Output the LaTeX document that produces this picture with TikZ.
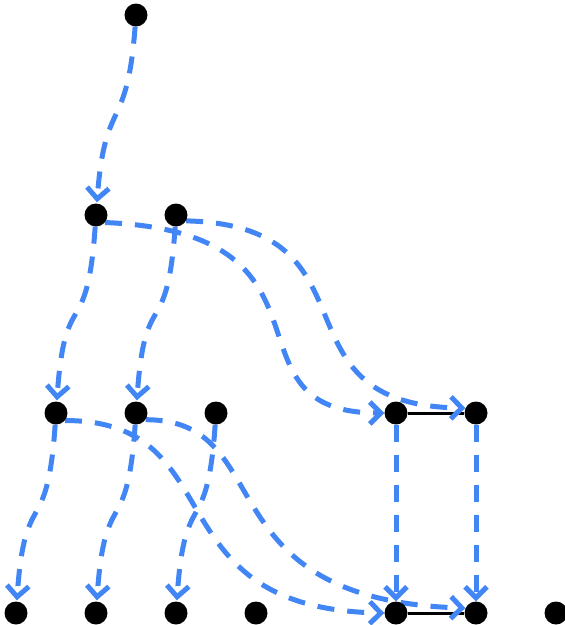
\documentclass[tikz,border=0pt]{standalone}
\usepackage{tikz}
\usetikzlibrary{arrows.meta,backgrounds}
\definecolor{flowblue}{HTML}{4285F4}

\begin{document}
\begin{tikzpicture}[
  x=1pt, y=-1pt,
  dot/.style={circle, fill=black, inner sep=0pt, minimum size=23pt},
  link/.style={line width=3pt, black},
  flow/.style={
    draw=flowblue,
    line width=5pt,
    dash pattern=on 17pt off 13pt,
    -{Straight Barb[length=11pt, width=22pt]}
  },
  sdrop/.style={flow, shorten >=1pt}
]
\useasboundingbox (0,0) rectangle (565,625);

% rows of points
\node[dot] (top) at (136,15) {};
\node[dot] (m1) at (96,215) {};
\node[dot] (m2) at (176,215) {};
\node[dot] (p1) at (56,413) {};
\node[dot] (p2) at (136,413) {};
\node[dot] (p3) at (216,413) {};
\node[dot] (p4) at (396,413) {};
\node[dot] (p5) at (476,413) {};
\node[dot] (q1) at (16,613) {};
\node[dot] (q2) at (96,613) {};
\node[dot] (q3) at (176,613) {};
\node[dot] (q4) at (256,613) {};
\node[dot] (q5) at (396,613) {};
\node[dot] (q6) at (476,613) {};
\node[dot] (q7) at (556,613) {};

\begin{pgfonlayer}{background}
\draw[link] (p4) -- (p5);
\draw[link] (q5) -- (q6);

% straight down, with a kink
\draw[sdrop] (top) .. controls +(-9,120) and +(9,-120) .. (m1);
\draw[sdrop] (m1) .. controls +(-9,130) and +(9,-130) .. (p1);
\draw[sdrop] (m2) .. controls +(-9,130) and +(9,-130) .. (p2);
\draw[sdrop] (p1) .. controls +(-9,130) and +(9,-130) .. (q1);
\draw[sdrop] (p2) .. controls +(-9,130) and +(9,-130) .. (q2);
\draw[sdrop] (p3) .. controls +(-9,130) and +(9,-130) .. (q3);

% long sweeps to the right
\draw[flow] (m1.-40) .. controls +(250,10) and +(-170,0) .. (p4.west);
\draw[flow] (m2.-30) .. controls +(200,5) and +(-200,-3) .. (p5.155);
\draw[flow] (p1.-40) .. controls +(170,0) and +(-234,-4) .. (q5.west);
\draw[flow] (p2.-35) .. controls +(135,0) and +(-265,-8) .. (q6.155);

% straight columns
\draw[flow] (p4) -- (q5);
\draw[flow] (p5) -- (q6);
\end{pgfonlayer}

\end{tikzpicture}
\end{document}
